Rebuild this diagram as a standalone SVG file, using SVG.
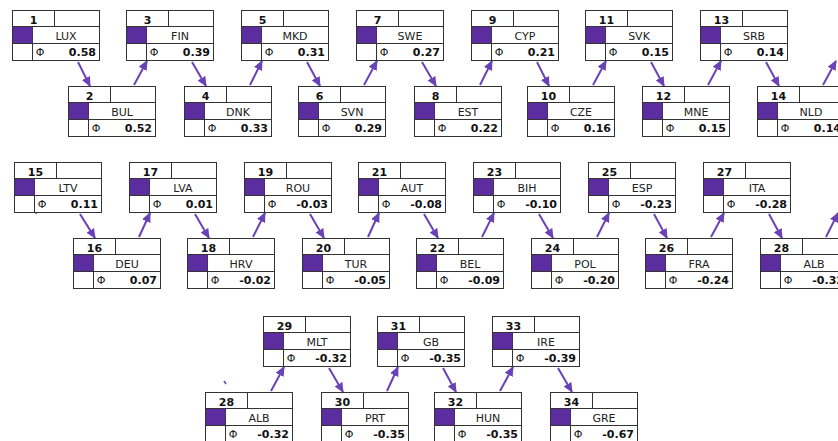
<svg xmlns="http://www.w3.org/2000/svg" xmlns:xlink="http://www.w3.org/1999/xlink" width="838" height="441" viewBox="0 0 838 441">
<style>
.bx{fill:#fff;stroke:#333;stroke-width:1}
.ln{stroke:#333;stroke-width:1;fill:none}
.sq{fill:#5b2d9e}
.num{font-family:"DejaVu Sans",sans-serif;font-size:11px;font-weight:bold;fill:#111;text-anchor:middle}
.nm{font-family:"DejaVu Sans",sans-serif;font-size:11px;fill:#222;text-anchor:middle}
.ph{font-family:"DejaVu Sans",sans-serif;font-size:11px;fill:#222;text-anchor:middle}
.val{font-family:"DejaVu Sans",sans-serif;font-size:11px;font-weight:bold;fill:#111;text-anchor:end}
.ar{stroke:#6a42b8;stroke-width:2;fill:none;marker-end:url(#ah)}
.tk{stroke:#6a42b8;stroke-width:1.5;fill:none}
</style>
<defs>
<marker id="ah" markerUnits="userSpaceOnUse" markerWidth="11" markerHeight="10" refX="9" refY="4.5" orient="auto">
<path d="M0,0 L10,4.5 L0,9 z" fill="#6a42b8"/>
</marker>
<g id="frame">
<rect class="bx" x="0.5" y="0.5" width="87" height="50"/>
<path class="ln" d="M0.5,16.5H87.5M0.5,33.5H87.5M42.5,0.5V16.5M20.5,16.5V50.5"/>
<rect class="sq" x="1" y="17" width="19.5" height="16"/>
</g>
</defs>
<rect width="838" height="441" fill="#fff"/>
<g id="connectors">
<line class="ar" x1="78" y1="62" x2="90" y2="86"/>
<line class="ar" x1="134" y1="85" x2="147" y2="61"/>
<line class="ar" x1="192" y1="62" x2="206" y2="86"/>
<line class="ar" x1="250" y1="85" x2="262" y2="61"/>
<line class="ar" x1="307" y1="62" x2="320" y2="86"/>
<line class="ar" x1="364" y1="85" x2="377" y2="61"/>
<line class="ar" x1="422" y1="62" x2="436" y2="86"/>
<line class="ar" x1="480" y1="85" x2="492" y2="61"/>
<line class="ar" x1="537" y1="62" x2="549" y2="86"/>
<line class="ar" x1="593" y1="85" x2="606" y2="61"/>
<line class="ar" x1="651" y1="62" x2="664" y2="86"/>
<line class="ar" x1="708" y1="85" x2="721" y2="61"/>
<line class="ar" x1="766" y1="62" x2="779" y2="86"/>
<line class="ar" x1="823" y1="85" x2="836" y2="61"/>
<line class="ar" x1="80" y1="214" x2="95" y2="238"/>
<line class="ar" x1="139" y1="237" x2="150" y2="213"/>
<line class="ar" x1="195" y1="214" x2="209" y2="238"/>
<line class="ar" x1="253" y1="237" x2="265" y2="213"/>
<line class="ar" x1="310" y1="214" x2="324" y2="238"/>
<line class="ar" x1="368" y1="237" x2="379" y2="213"/>
<line class="ar" x1="424" y1="214" x2="438" y2="238"/>
<line class="ar" x1="482" y1="237" x2="494" y2="213"/>
<line class="ar" x1="539" y1="214" x2="553" y2="238"/>
<line class="ar" x1="597" y1="237" x2="609" y2="213"/>
<line class="ar" x1="654" y1="214" x2="667" y2="238"/>
<line class="ar" x1="711" y1="237" x2="724" y2="213"/>
<line class="ar" x1="769" y1="214" x2="782" y2="238"/>
<line class="ar" x1="826" y1="237" x2="838" y2="213"/>
<line class="ar" x1="271" y1="391" x2="284" y2="367"/>
<line class="ar" x1="329" y1="368" x2="343" y2="392"/>
<line class="ar" x1="387" y1="391" x2="398" y2="367"/>
<line class="ar" x1="443" y1="368" x2="456" y2="392"/>
<line class="ar" x1="500" y1="391" x2="513" y2="367"/>
<line class="ar" x1="558" y1="368" x2="572" y2="392"/>
<line class="tk" x1="224" y1="381" x2="226" y2="384"/>
<line class="tk" x1="36" y1="211" x2="36" y2="214"/>
</g>
<g id="n1" transform="translate(12,10)"><use href="#frame"/><text class="num" x="21.5" y="14">1</text><text class="nm" x="54" y="29.5">LUX</text><text class="ph" x="28" y="46">Φ</text><text class="val" x="84" y="46">0.58</text></g>
<g id="n2" transform="translate(68,86)"><use href="#frame"/><text class="num" x="21.5" y="14">2</text><text class="nm" x="54" y="29.5">BUL</text><text class="ph" x="28" y="46">Φ</text><text class="val" x="84" y="46">0.52</text></g>
<g id="n3" transform="translate(126,10)"><use href="#frame"/><text class="num" x="21.5" y="14">3</text><text class="nm" x="54" y="29.5">FIN</text><text class="ph" x="28" y="46">Φ</text><text class="val" x="84" y="46">0.39</text></g>
<g id="n4" transform="translate(184,86)"><use href="#frame"/><text class="num" x="21.5" y="14">4</text><text class="nm" x="54" y="29.5">DNK</text><text class="ph" x="28" y="46">Φ</text><text class="val" x="84" y="46">0.33</text></g>
<g id="n5" transform="translate(241,10)"><use href="#frame"/><text class="num" x="21.5" y="14">5</text><text class="nm" x="54" y="29.5">MKD</text><text class="ph" x="28" y="46">Φ</text><text class="val" x="84" y="46">0.31</text></g>
<g id="n6" transform="translate(298,86)"><use href="#frame"/><text class="num" x="21.5" y="14">6</text><text class="nm" x="54" y="29.5">SVN</text><text class="ph" x="28" y="46">Φ</text><text class="val" x="84" y="46">0.29</text></g>
<g id="n7" transform="translate(356,10)"><use href="#frame"/><text class="num" x="21.5" y="14">7</text><text class="nm" x="54" y="29.5">SWE</text><text class="ph" x="28" y="46">Φ</text><text class="val" x="84" y="46">0.27</text></g>
<g id="n8" transform="translate(414,86)"><use href="#frame"/><text class="num" x="21.5" y="14">8</text><text class="nm" x="54" y="29.5">EST</text><text class="ph" x="28" y="46">Φ</text><text class="val" x="84" y="46">0.22</text></g>
<g id="n9" transform="translate(471,10)"><use href="#frame"/><text class="num" x="21.5" y="14">9</text><text class="nm" x="54" y="29.5">CYP</text><text class="ph" x="28" y="46">Φ</text><text class="val" x="84" y="46">0.21</text></g>
<g id="n10" transform="translate(527,86)"><use href="#frame"/><text class="num" x="21.5" y="14">10</text><text class="nm" x="54" y="29.5">CZE</text><text class="ph" x="28" y="46">Φ</text><text class="val" x="84" y="46">0.16</text></g>
<g id="n11" transform="translate(585,10)"><use href="#frame"/><text class="num" x="21.5" y="14">11</text><text class="nm" x="54" y="29.5">SVK</text><text class="ph" x="28" y="46">Φ</text><text class="val" x="84" y="46">0.15</text></g>
<g id="n12" transform="translate(642,86)"><use href="#frame"/><text class="num" x="21.5" y="14">12</text><text class="nm" x="54" y="29.5">MNE</text><text class="ph" x="28" y="46">Φ</text><text class="val" x="84" y="46">0.15</text></g>
<g id="n13" transform="translate(700,10)"><use href="#frame"/><text class="num" x="21.5" y="14">13</text><text class="nm" x="54" y="29.5">SRB</text><text class="ph" x="28" y="46">Φ</text><text class="val" x="84" y="46">0.14</text></g>
<g id="n14" transform="translate(757,86)"><use href="#frame"/><text class="num" x="21.5" y="14">14</text><text class="nm" x="54" y="29.5">NLD</text><text class="ph" x="28" y="46">Φ</text><text class="val" x="84" y="46">0.14</text></g>
<g id="n15" transform="translate(14,162)"><use href="#frame"/><text class="num" x="21.5" y="14">15</text><text class="nm" x="54" y="29.5">LTV</text><text class="ph" x="28" y="46">Φ</text><text class="val" x="84" y="46">0.11</text></g>
<g id="n16" transform="translate(73,238)"><use href="#frame"/><text class="num" x="21.5" y="14">16</text><text class="nm" x="54" y="29.5">DEU</text><text class="ph" x="28" y="46">Φ</text><text class="val" x="84" y="46">0.07</text></g>
<g id="n17" transform="translate(129,162)"><use href="#frame"/><text class="num" x="21.5" y="14">17</text><text class="nm" x="54" y="29.5">LVA</text><text class="ph" x="28" y="46">Φ</text><text class="val" x="84" y="46">0.01</text></g>
<g id="n18" transform="translate(187,238)"><use href="#frame"/><text class="num" x="21.5" y="14">18</text><text class="nm" x="54" y="29.5">HRV</text><text class="ph" x="28" y="46">Φ</text><text class="val" x="84" y="46">-0.02</text></g>
<g id="n19" transform="translate(244,162)"><use href="#frame"/><text class="num" x="21.5" y="14">19</text><text class="nm" x="54" y="29.5">ROU</text><text class="ph" x="28" y="46">Φ</text><text class="val" x="84" y="46">-0.03</text></g>
<g id="n20" transform="translate(302,238)"><use href="#frame"/><text class="num" x="21.5" y="14">20</text><text class="nm" x="54" y="29.5">TUR</text><text class="ph" x="28" y="46">Φ</text><text class="val" x="84" y="46">-0.05</text></g>
<g id="n21" transform="translate(358,162)"><use href="#frame"/><text class="num" x="21.5" y="14">21</text><text class="nm" x="54" y="29.5">AUT</text><text class="ph" x="28" y="46">Φ</text><text class="val" x="84" y="46">-0.08</text></g>
<g id="n22" transform="translate(416,238)"><use href="#frame"/><text class="num" x="21.5" y="14">22</text><text class="nm" x="54" y="29.5">BEL</text><text class="ph" x="28" y="46">Φ</text><text class="val" x="84" y="46">-0.09</text></g>
<g id="n23" transform="translate(473,162)"><use href="#frame"/><text class="num" x="21.5" y="14">23</text><text class="nm" x="54" y="29.5">BIH</text><text class="ph" x="28" y="46">Φ</text><text class="val" x="84" y="46">-0.10</text></g>
<g id="n24" transform="translate(531,238)"><use href="#frame"/><text class="num" x="21.5" y="14">24</text><text class="nm" x="54" y="29.5">POL</text><text class="ph" x="28" y="46">Φ</text><text class="val" x="84" y="46">-0.20</text></g>
<g id="n25" transform="translate(588,162)"><use href="#frame"/><text class="num" x="21.5" y="14">25</text><text class="nm" x="54" y="29.5">ESP</text><text class="ph" x="28" y="46">Φ</text><text class="val" x="84" y="46">-0.23</text></g>
<g id="n26" transform="translate(645,238)"><use href="#frame"/><text class="num" x="21.5" y="14">26</text><text class="nm" x="54" y="29.5">FRA</text><text class="ph" x="28" y="46">Φ</text><text class="val" x="84" y="46">-0.24</text></g>
<g id="n27" transform="translate(703,162)"><use href="#frame"/><text class="num" x="21.5" y="14">27</text><text class="nm" x="54" y="29.5">ITA</text><text class="ph" x="28" y="46">Φ</text><text class="val" x="84" y="46">-0.28</text></g>
<g id="n28" transform="translate(760,238)"><use href="#frame"/><text class="num" x="21.5" y="14">28</text><text class="nm" x="54" y="29.5">ALB</text><text class="ph" x="28" y="46">Φ</text><text class="val" x="84" y="46">-0.32</text></g>
<g id="n28b" transform="translate(205,392)"><use href="#frame"/><text class="num" x="21.5" y="14">28</text><text class="nm" x="54" y="29.5">ALB</text><text class="ph" x="28" y="46">Φ</text><text class="val" x="84" y="46">-0.32</text></g>
<g id="n29" transform="translate(263,316)"><use href="#frame"/><text class="num" x="21.5" y="14">29</text><text class="nm" x="54" y="29.5">MLT</text><text class="ph" x="28" y="46">Φ</text><text class="val" x="84" y="46">-0.32</text></g>
<g id="n30" transform="translate(321,392)"><use href="#frame"/><text class="num" x="21.5" y="14">30</text><text class="nm" x="54" y="29.5">PRT</text><text class="ph" x="28" y="46">Φ</text><text class="val" x="84" y="46">-0.35</text></g>
<g id="n31" transform="translate(377,316)"><use href="#frame"/><text class="num" x="21.5" y="14">31</text><text class="nm" x="54" y="29.5">GB</text><text class="ph" x="28" y="46">Φ</text><text class="val" x="84" y="46">-0.35</text></g>
<g id="n32" transform="translate(434,392)"><use href="#frame"/><text class="num" x="21.5" y="14">32</text><text class="nm" x="54" y="29.5">HUN</text><text class="ph" x="28" y="46">Φ</text><text class="val" x="84" y="46">-0.35</text></g>
<g id="n33" transform="translate(492,316)"><use href="#frame"/><text class="num" x="21.5" y="14">33</text><text class="nm" x="54" y="29.5">IRE</text><text class="ph" x="28" y="46">Φ</text><text class="val" x="84" y="46">-0.39</text></g>
<g id="n34" transform="translate(550,392)"><use href="#frame"/><text class="num" x="21.5" y="14">34</text><text class="nm" x="54" y="29.5">GRE</text><text class="ph" x="28" y="46">Φ</text><text class="val" x="84" y="46">-0.67</text></g>
</svg>
